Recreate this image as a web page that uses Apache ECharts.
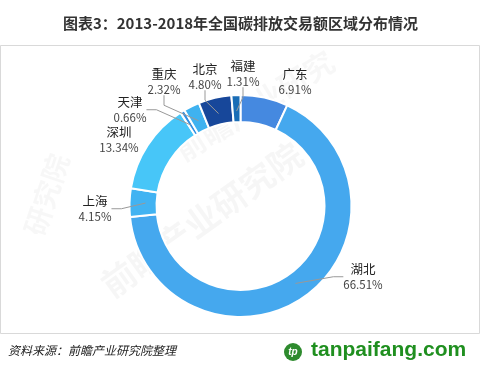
<!DOCTYPE html>
<html><head><meta charset="utf-8">
<script src="https://cdn.jsdelivr.net/npm/echarts@6/dist/echarts.min.js"></script>
<style>html,body{margin:0;padding:0;background:#fff}#c{width:481px;height:372px}</style>
</head><body><div id="c"></div>
<script>
const categories = ['广东','湖北','上海','深圳','天津','重庆','北京','福建'];
const shares = [6.91, 66.51, 4.15, 13.34, 0.66, 2.32, 4.80, 1.31];
const sliceColors = ['#4589e0','#45a8ee','#42b3f2','#47c6f8','#2f8fe3','#3fb2f0','#17479a','#1a6db6'];
const labelPos = [[295,82],[363,277],[95,209],[119,140],[130,110],[164,82],[205,77],[243,74]];
const showGuide = [false,true,true,false,true,true,true,true];

const data = categories.map((n,i)=>({name:n, value:shares[i], itemStyle:{color:sliceColors[i]}}));
const overlayData = categories.map((n,i)=>({name:n, value:shares[i], labelLine:{show:showGuide[i]}}));
const font = '"Noto Sans CJK SC", "Noto Sans", sans-serif';

const chart = echarts.init(document.getElementById('c'), null, {renderer:'canvas'});
chart.setOption({
  animation:false,
  backgroundColor:'#fff',
  title:{text:'图表3：2013-2018年全国碳排放交易额区域分布情况', left:'center', top:11,
    textStyle:{fontSize:15, fontWeight:'bold', color:'#333', fontFamily:font}},
  graphic:[
    {type:'rect', shape:{x:0.5,y:45.5,width:479,height:288}, style:{fill:'none', stroke:'#d9d9d9', lineWidth:1}, z:-1},
    {type:'text', x:95, y:275, rotation:0.62, style:{text:'前瞻产业研究院', font:'bold 34px '+font, fill:'rgba(0,0,0,0.035)'}, z:-1},
    {type:'text', x:20, y:230, rotation:1.25, style:{text:'研究院', font:'bold 28px '+font, fill:'rgba(0,0,0,0.03)'}, z:-1},
    {type:'text', x:170, y:140, rotation:0.55, style:{text:'前瞻产业研究', font:'bold 30px '+font, fill:'rgba(0,0,0,0.03)'}, z:-1},
    {type:'text', left:8, top:344, style:{text:'资料来源：前瞻产业研究院整理', font:'italic 12px '+font, fill:'#222'}},
    {type:'circle', shape:{cx:293, cy:352, r:9}, style:{fill:'#2e8b2e'}},
    {type:'text', x:293, y:352, style:{text:'tp', font:'bold italic 10px sans-serif', fill:'#fff', align:'center', verticalAlign:'middle'}},
    {type:'text', left:311, top:340, style:{text:'tanpaifang.com', font:'bold 21px "Liberation Sans", Arial, sans-serif', fill:'#1f8f1f'}}
  ],
  series:[
    {type:'pie', center:[240.5,206], radius:[84,111], startAngle:90, clockwise:true,
     data:data, label:{show:false}, labelLine:{show:false}, silent:true,
     itemStyle:{borderColor:'#fff', borderWidth:2}, z:2},
    {type:'pie', center:[240.5,206], radius:[84,95], startAngle:90, clockwise:true,
     data:overlayData, silent:true, z:5,
     itemStyle:{color:'rgba(0,0,0,0)', borderWidth:0},
     label:{show:true, position:'outside', fontFamily:font,
       formatter:p=>'{n|'+p.name+'}\n{p|'+p.value.toFixed(2)+'%}',
       rich:{n:{fontSize:12.5, color:'#222', lineHeight:15, fontFamily:font, align:'center'},
             p:{fontSize:11.5, color:'#444', lineHeight:15, fontFamily:font, align:'center'}}},
     labelLine:{show:true, length:10, length2:10, lineStyle:{color:'#999', width:1}},
     labelLayout:function(params){
       const pos = labelPos[params.dataIndex];
       return {x:pos[0], y:pos[1], align:'center', verticalAlign:'middle'};
     }}
  ]
});
</script></body></html>
